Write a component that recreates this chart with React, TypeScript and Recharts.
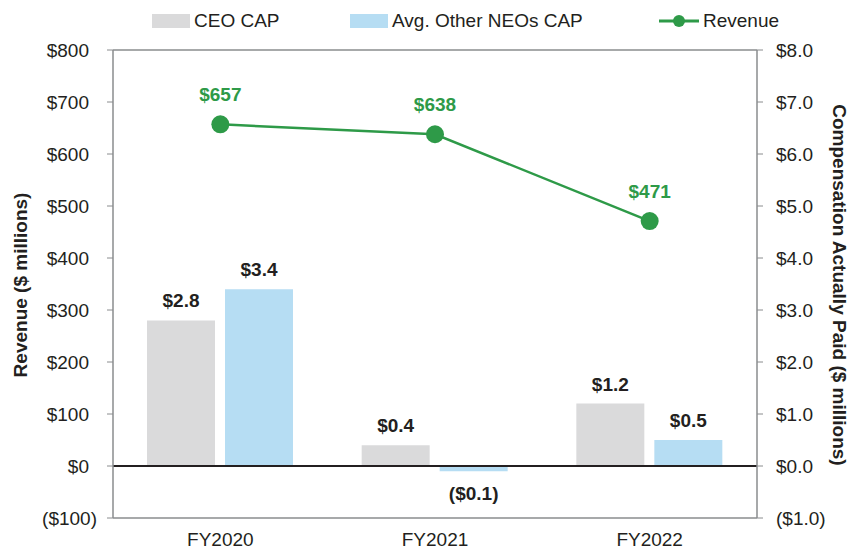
import {
  ComposedChart,
  Bar,
  Line,
  XAxis,
  YAxis,
  ReferenceLine,
  LabelList,
  Legend,
} from "recharts";

const years = ["FY2020", "FY2021", "FY2022"];
const ceoCap = [2.8, 0.4, 1.2];
const otherNeosCap = [3.4, -0.1, 0.5];
const revenue = [657, 638, 471];

const revenueTicks = [-100, 0, 100, 200, 300, 400, 500, 600, 700, 800];
const compTicks = [-1, 0, 1, 2, 3, 4, 5, 6, 7, 8];

const data = years.map((year, i) => ({
  year,
  ceo: ceoCap[i],
  neos: otherNeosCap[i],
  revenue: revenue[i],
}));

const FONT = "'Liberation Sans', Arial, sans-serif";
const TEXT = "#231F20";
const AXIS = "#8A8C8E";
const GRAY = "#DADADB";
const BLUE = "#B6DDF3";
const GREEN = "#2E9A48";

const money = (v: number) =>
  v < 0 ? `($${Math.abs(v).toFixed(1)})` : `$${v.toFixed(1)}`;
const dollars = (v: number) => (v < 0 ? `($${Math.abs(v)})` : `$${v}`);

function LeftTick(props: any) {
  const { x, y, payload } = props;
  const v = payload.value as number;
  return (
    <text x={x + (v < 0 ? 8 : 0)} y={y} dy="0.36em" textAnchor="end" fontSize={19} fill={TEXT} fontFamily={FONT}>
      {dollars(v)}
    </text>
  );
}

function RightTick(props: any) {
  const { x, y, payload } = props;
  const v = payload.value as number;
  return (
    <text x={x} y={y} dy="0.36em" textAnchor="start" fontSize={19} fill={TEXT} fontFamily={FONT}>
      {money(v)}
    </text>
  );
}

function BarLabel(props: any) {
  const { x, y, width, height, value } = props;
  const top = Math.min(y, y + height);
  const bottom = Math.max(y, y + height);
  const neg = value < 0;
  return (
    <text
      x={x + width / 2}
      y={neg ? bottom + 29 : top - 13}
      textAnchor="middle"
      fontSize={19}
      fontWeight="bold"
      fill={TEXT}
      fontFamily={FONT}
    >
      {money(value)}
    </text>
  );
}

function LineLabel(props: any) {
  const { x, y, value } = props;
  return (
    <text x={x} y={y - 23} textAnchor="middle" fontSize={19} fontWeight="bold" fill={GREEN} fontFamily={FONT}>
      {`$${value}`}
    </text>
  );
}

function LegendContent() {
  const item = { position: "absolute" as const, top: 0, height: 26, display: "flex", alignItems: "center" };
  const label = { fontSize: 19, color: TEXT, fontFamily: FONT, marginLeft: 4 };
  return (
    <div style={{ position: "relative", width: 855, height: 26 }}>
      <div style={{ ...item, left: 152 }}>
        <span style={{ width: 38, height: 14, background: GRAY, display: "inline-block" }} />
        <span style={label}>CEO CAP</span>
      </div>
      <div style={{ ...item, left: 350 }}>
        <span style={{ width: 38, height: 14, background: BLUE, display: "inline-block" }} />
        <span style={label}>Avg. Other NEOs CAP</span>
      </div>
      <div style={{ ...item, left: 659 }}>
        <svg width={40} height={20}>
          <line x1={0} y1={10} x2={40} y2={10} stroke={GREEN} strokeWidth={3} />
          <circle cx={20} cy={10} r={6} fill={GREEN} />
        </svg>
        <span style={label}>Revenue</span>
      </div>
    </div>
  );
}

export default function App() {
  return (
    <div style={{ position: "absolute", left: 0, top: 0, width: 855, height: 550, background: "#fff" }}>
      <ComposedChart
        width={855}
        height={550}
        data={data}
        margin={{ top: 24, right: 0, bottom: 0, left: 0 }}
        barSize={68}
        barGap={10}
      >
        <XAxis
          dataKey="year"
          xAxisId={0}
          height={32}
          tickLine={false}
          tickSize={0}
          tickMargin={15}
          axisLine={{ stroke: AXIS, strokeWidth: 1.5 }}
          tick={{ fontSize: 19, fill: TEXT, fontFamily: FONT }}
        />
        <YAxis
          yAxisId="left"
          orientation="left"
          width={113}
          domain={[-100, 800]}
          ticks={revenueTicks}
          interval={0}
          tickSize={6}
          tickMargin={18}
          axisLine={{ stroke: AXIS, strokeWidth: 1.5 }}
          tickLine={{ stroke: AXIS }}
          tick={<LeftTick />}
          label={() => (
            <text
              x={20}
              y={285}
              transform="rotate(-90 20 285)"
              textAnchor="middle"
              dominantBaseline="central"
              fontSize={19}
              fontWeight="bold"
              fill={TEXT}
              fontFamily={FONT}
            >
              Revenue ($ millions)
            </text>
          )}
        />
        <YAxis
          yAxisId="right"
          orientation="right"
          width={98}
          domain={[-1, 8]}
          ticks={compTicks}
          interval={0}
          tickSize={6}
          tickMargin={13}
          axisLine={{ stroke: AXIS, strokeWidth: 1.5 }}
          tickLine={{ stroke: AXIS }}
          tick={<RightTick />}
          label={() => (
            <text
              x={839}
              y={285}
              transform="rotate(90 839 285)"
              textAnchor="middle"
              dominantBaseline="central"
              fontSize={19}
              fontWeight="bold"
              fill={TEXT}
              fontFamily={FONT}
            >
              Compensation Actually Paid ($ millions)
            </text>
          )}
        />
        <Legend verticalAlign="top" content={<LegendContent />} wrapperStyle={{ top: 8, left: 0, width: 855 }} />
        <ReferenceLine yAxisId="left" y={800} stroke={AXIS} strokeWidth={1.5} />
        <Bar yAxisId="right" dataKey="ceo" name="CEO CAP" fill={GRAY} isAnimationActive={false}>
          <LabelList dataKey="ceo" content={<BarLabel />} />
        </Bar>
        <Bar yAxisId="right" dataKey="neos" name="Avg. Other NEOs CAP" fill={BLUE} isAnimationActive={false}>
          <LabelList dataKey="neos" content={<BarLabel />} />
        </Bar>
        <ReferenceLine yAxisId="left" y={0} stroke={TEXT} strokeWidth={2} />
        <Line
          yAxisId="left"
          dataKey="revenue"
          name="Revenue"
          stroke={GREEN}
          strokeWidth={2.5}
          dot={{ r: 9, fill: GREEN, stroke: "none" }}
          activeDot={false}
          isAnimationActive={false}
        >
          <LabelList dataKey="revenue" content={<LineLabel />} />
        </Line>
      </ComposedChart>
    </div>
  );
}
